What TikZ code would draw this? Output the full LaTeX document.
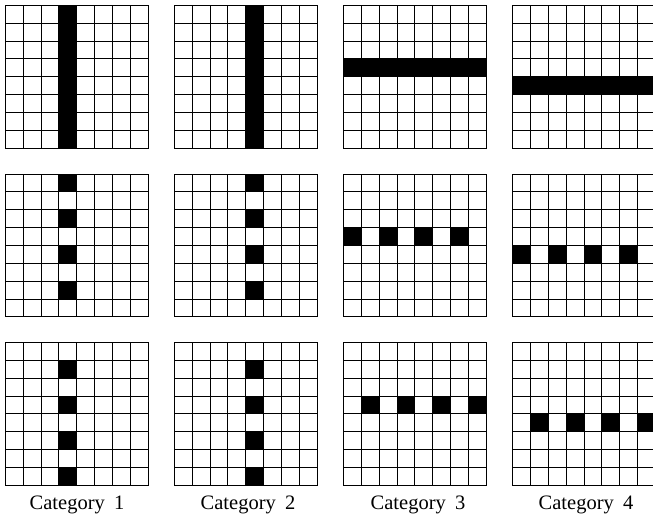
\documentclass[tikz,border=0pt]{standalone}
\usepackage{fontspec}
\setmainfont{Liberation Serif}
\newcommand\cellsz{17.85}
\newcommand\panelgrid[3]{%
  \begin{scope}[shift={(#1,#2)}]
    \foreach \cc/\rr in {#3} {\fill[cellfill] (\cc*\cellsz,\rr*\cellsz) rectangle ++(\cellsz,\cellsz);}
    \foreach \i in {0,...,8} {
      \draw[gridline] (\i*\cellsz,0) -- (\i*\cellsz,8*\cellsz);
      \draw[gridline] (0,\i*\cellsz) -- (8*\cellsz,\i*\cellsz);
    }
  \end{scope}}
\begin{document}
\begin{tikzpicture}[x=1pt,y=-1pt,
  gridline/.style={line width=0.9pt,black,line cap=rect},
  cellfill/.style={black},
  catlabel/.style={font=\fontsize{20.5}{24}\selectfont,anchor=base,inner sep=0pt}]
\useasboundingbox (0,0) rectangle (653,519);
\clip (0,0) rectangle (653,519);
% column 1
\panelgrid{5.3}{5.3}{3/0,3/1,3/2,3/3,3/4,3/5,3/6,3/7}
\panelgrid{5.3}{174}{3/0,3/2,3/4,3/6}
\panelgrid{5.3}{342.5}{3/1,3/3,3/5,3/7}
% column 2
\panelgrid{174.3}{5.3}{4/0,4/1,4/2,4/3,4/4,4/5,4/6,4/7}
\panelgrid{174.3}{174}{4/0,4/2,4/4,4/6}
\panelgrid{174.3}{342.5}{4/1,4/3,4/5,4/7}
% column 3
\panelgrid{343.4}{5.3}{0/3,1/3,2/3,3/3,4/3,5/3,6/3,7/3}
\panelgrid{343.4}{174}{0/3,2/3,4/3,6/3}
\panelgrid{343.4}{342.5}{1/3,3/3,5/3,7/3}
% column 4
\panelgrid{512.6}{5.3}{0/4,1/4,2/4,3/4,4/4,5/4,6/4,7/4}
\panelgrid{512.6}{174}{0/4,2/4,4/4,6/4}
\panelgrid{512.6}{342.5}{1/4,3/4,5/4,7/4}
% labels
\node[catlabel] (lab1) at (77,509) {Category\hspace{0.45em}1};
\node[catlabel] (lab2) at (248,509) {Category\hspace{0.45em}2};
\node[catlabel] (lab3) at (418,509) {Category\hspace{0.45em}3};
\node[catlabel] (lab4) at (586,509) {Category\hspace{0.45em}4};
\end{tikzpicture}
\end{document}
